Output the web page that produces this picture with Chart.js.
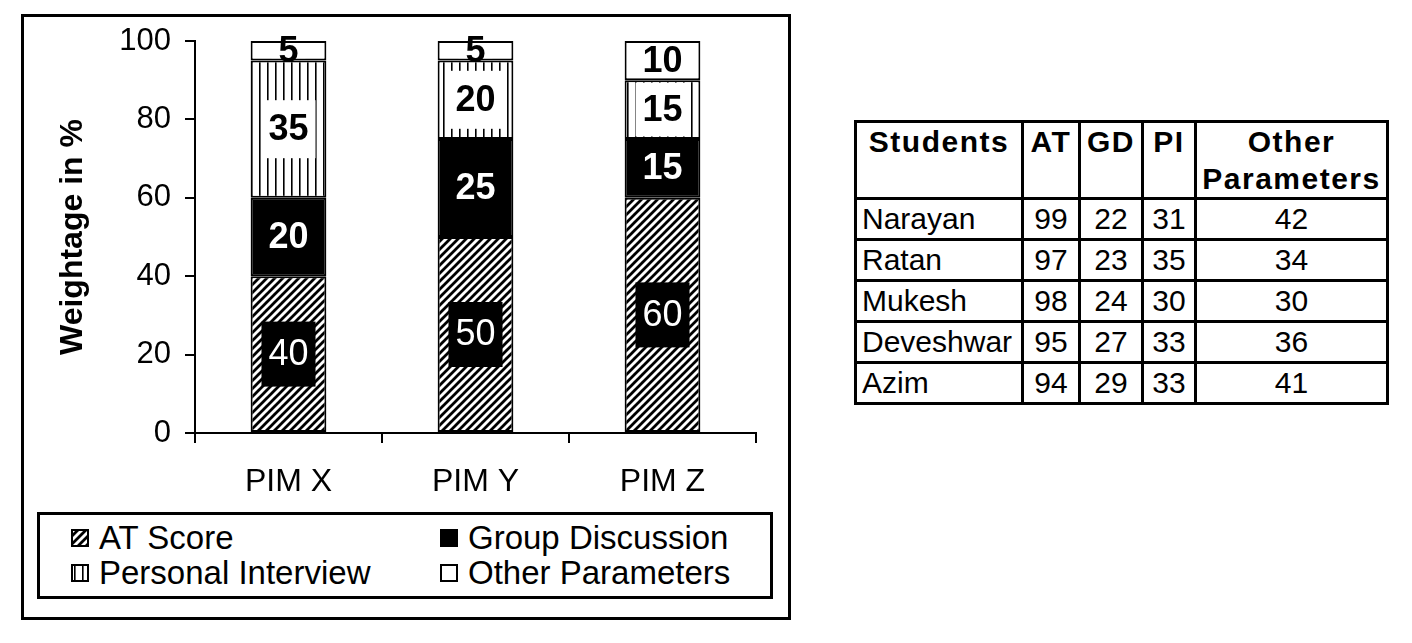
<!DOCTYPE html>
<html>
<head>
<meta charset="utf-8">
<script src="https://cdn.jsdelivr.net/npm/chart.js@4.4.1/dist/chart.umd.min.js"></script>
<style>
  body { margin: 0; background: #fff; font-family: "Liberation Sans", Arial, sans-serif; }
  #frame { position: absolute; left: 21px; top: 14px; width: 764px; height: 600px; border: 3px solid #000; }
  #chart-wrap { position: absolute; left: 24px; top: 17px; width: 764px; height: 490px; }
  #legend { position: absolute; left: 37px; top: 512px; width: 730px; height: 81px; border: 3px solid #000; }
  .item { position: absolute; font-size: 33px; line-height: 34px; color: #000; display: flex; align-items: center; }
  .item canvas { margin-right: 10px; }
  table { position: absolute; left: 854px; top: 120px; border-collapse: collapse; font-size: 30px; table-layout: fixed; width: 532px; }
  td, th { border: 3px solid #000; padding: 0 5px; height: 38px; line-height: 36px; overflow: hidden; white-space: nowrap; }
  th { vertical-align: top; font-weight: bold; letter-spacing: 1.5px; height: 74px; line-height: 37px; white-space: normal; padding: 0 2px; }
  td.num { text-align: center; }
</style>
</head>
<body>
<div id="frame"></div>
<div id="chart-wrap"><canvas id="chart" width="764" height="490"></canvas></div>
<div id="legend"></div>

<table id="students-table">
  <colgroup></colgroup>
  <thead><tr></tr></thead>
  <tbody></tbody>
</table>

<script>
// chart data
const categories = ["PIM X", "PIM Y", "PIM Z"];
const seriesNames = ["AT Score", "Group Discussion", "Personal Interview", "Other Parameters"];
const atScore = [40, 50, 60];
const groupDiscussion = [20, 25, 15];
const personalInterview = [35, 20, 15];
const otherParameters = [5, 5, 10];
const yTicks = [0, 20, 40, 60, 80, 100];

// table data
const tableHeaders = ["Students", "AT", "GD", "PI", "Other Parameters"];
const students = ["Narayan", "Ratan", "Mukesh", "Deveshwar", "Azim"];
const tableAT = [99, 97, 98, 95, 94];
const tableGD = [22, 23, 24, 27, 29];
const tablePI = [31, 35, 30, 33, 33];
const tableOther = [42, 34, 30, 36, 41];

const FONT = "'Liberation Sans', Arial, sans-serif";

function hatchPattern() {
  const c = document.createElement("canvas");
  c.width = 8; c.height = 8;
  const ctx = c.getContext("2d");
  ctx.fillStyle = "#fff";
  ctx.fillRect(0, 0, 8, 8);
  ctx.strokeStyle = "#000";
  ctx.lineWidth = 2.8;
  ctx.beginPath();
  ctx.moveTo(-2, 10); ctx.lineTo(10, -2);
  ctx.moveTo(-6, 6); ctx.lineTo(6, -6);
  ctx.moveTo(2, 14); ctx.lineTo(14, 2);
  ctx.stroke();
  return c;
}

function verticalPattern() {
  const c = document.createElement("canvas");
  c.width = 8; c.height = 8;
  const ctx = c.getContext("2d");
  ctx.fillStyle = "#fff";
  ctx.fillRect(0, 0, 8, 8);
  ctx.fillStyle = "#000";
  ctx.fillRect(3, 0, 1.6, 8);
  return c;
}

const chartCanvas = document.getElementById("chart");
const cctx = chartCanvas.getContext("2d");
const fills = [
  cctx.createPattern(hatchPattern(), "repeat"),
  "#000",
  cctx.createPattern(verticalPattern(), "repeat"),
  "#fff",
];

// labels drawn on each segment
const labelStyles = [
  { box: "#000", color: "#fff", weight: "normal", boxH: 65 },
  { box: null, color: "#fff", weight: "bold", boxH: 0 },
  { box: "#fff", color: "#000", weight: "bold", boxH: 58 },
  { box: "#fff", color: "#000", weight: "bold", boxH: 58 },
];

const segmentLabels = {
  id: "segmentLabels",
  afterDatasetsDraw(chart) {
    const ctx = chart.ctx;
    chart.data.datasets.forEach((ds, di) => {
      const meta = chart.getDatasetMeta(di);
      const st = labelStyles[di];
      meta.data.forEach((bar, i) => {
        const text = String(ds.data[i]);
        const cy = (bar.y + bar.base) / 2;
        ctx.save();
        ctx.font = st.weight + " 36px " + FONT;
        const w = ctx.measureText(text).width;
        if (st.box) {
          const segH = Math.abs(bar.base - bar.y);
          const h = Math.min(st.boxH, segH - 5);
          if (h > 0) {
            ctx.fillStyle = st.box;
            ctx.fillRect(bar.x - w / 2 - 7, cy - h / 2, w + 14, h);
          }
        }
        ctx.fillStyle = st.color;
        ctx.textAlign = "center";
        ctx.textBaseline = "middle";
        ctx.fillText(text, bar.x, cy + 1);
        ctx.restore();
      });
    });
  },
};

new Chart(chartCanvas, {
  type: "bar",
  data: {
    labels: categories,
    datasets: [atScore, groupDiscussion, personalInterview, otherParameters].map((d, i) => ({
      label: seriesNames[i],
      data: d,
      backgroundColor: fills[i],
      borderColor: "#000",
      borderWidth: 2,
      borderSkipped: false,
      categoryPercentage: 1,
      barPercentage: 0.405,
    })),
  },
  options: {
    responsive: false,
    animation: false,
    layout: { padding: { left: 30, right: 32, top: 24, bottom: 0 } },
    plugins: { legend: { display: false }, tooltip: { enabled: false } },
    scales: {
      x: {
        stacked: true,
        afterFit: (s) => { s.height = 74; s.paddingLeft = 0; s.paddingRight = 0; },
        grid: { offset: true, drawOnChartArea: false, color: "#000", lineWidth: 2, tickLength: 10, tickColor: "#000" },
        border: { color: "#000", width: 2 },
        ticks: { color: "#000", font: { family: FONT, size: 32 }, padding: 20 },
      },
      y: {
        stacked: true,
        min: 0,
        max: 100,
        afterFit: (s) => { s.width = 141; s.paddingTop = 0; s.paddingBottom = 0; },
        afterBuildTicks: (s) => { s.ticks = yTicks.map((v) => ({ value: v })); },
        grid: { drawOnChartArea: false, color: "#000", lineWidth: 2, tickLength: 10, tickColor: "#000" },
        border: { color: "#000", width: 2 },
        ticks: { color: "#000", font: { family: FONT, size: 31 }, padding: 14 },
        title: {
          display: true,
          text: "Weightage in %",
          color: "#000",
          font: { family: FONT, size: 32, weight: "bold" },
          padding: { top: 0, bottom: 0 },
        },
      },
    },
  },
  plugins: [segmentLabels],
});

// legend
const legendEl = document.getElementById("legend");
const legendPos = [
  { left: 31, top: 6 },
  { left: 400, top: 6 },
  { left: 31, top: 41 },
  { left: 400, top: 41 },
];
const swatchFills = [hatchPattern, null, verticalPattern, null];
seriesNames.forEach((name, i) => {
  const item = document.createElement("div");
  item.className = "item";
  item.style.left = legendPos[i].left + "px";
  item.style.top = legendPos[i].top + "px";
  const sw = document.createElement("canvas");
  sw.width = 18; sw.height = 18;
  const sctx = sw.getContext("2d");
  if (swatchFills[i]) {
    sctx.fillStyle = sctx.createPattern(swatchFills[i](), "repeat");
  } else {
    sctx.fillStyle = i === 1 ? "#000" : "#fff";
  }
  sctx.fillRect(0, 0, 18, 18);
  sctx.strokeStyle = "#000";
  sctx.lineWidth = 2;
  sctx.strokeRect(1, 1, 16, 16);
  item.appendChild(sw);
  item.appendChild(document.createTextNode(name));
  legendEl.appendChild(item);
});

// table
const colgroup = document.querySelector("#students-table colgroup");
const colWidths = [167, 57, 63, 53, 192];
colWidths.forEach((w) => {
  const col = document.createElement("col");
  col.style.width = w + "px";
  colgroup.appendChild(col);
});
const headRow = document.querySelector("#students-table thead tr");
tableHeaders.forEach((h) => {
  const th = document.createElement("th");
  th.textContent = h;
  headRow.appendChild(th);
});
const tbody = document.querySelector("#students-table tbody");
students.forEach((s, r) => {
  const tr = document.createElement("tr");
  [s, tableAT[r], tableGD[r], tablePI[r], tableOther[r]].forEach((v, c) => {
    const td = document.createElement("td");
    td.textContent = v;
    if (c > 0) td.className = "num";
    tr.appendChild(td);
  });
  tbody.appendChild(tr);
});
</script>
</body>
</html>
